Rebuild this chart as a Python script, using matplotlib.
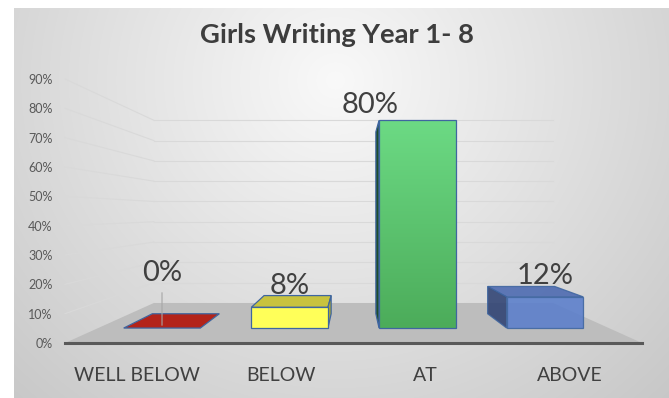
import numpy as np
import matplotlib
matplotlib.use("Agg")
import matplotlib.pyplot as plt
from matplotlib.patches import Polygon

plt.rcParams['font.family'] = ['Lato', 'DejaVu Sans']

# chart data
categories = ["WELL BELOW", "BELOW", "AT", "ABOVE"]
percent = [0, 8, 80, 12]
title = "Girls Writing Year 1- 8"

# styling per bar: front, top, side
front_cols = ["#b3231a", "#ffff59", "#5fc872", "#5a7ecb"]
top_cols = ["#b3231a", "#c8c33e", "#5fc872", "#4a68b0"]
side_cols = ["#8a1a12", "#b0ab2c", "#1f4e2c", "#2e4172"]
edge_col = "#3f66a0"

# simple perspective: depth ratio r scales toward the vanishing point
XVP, VVP = 1.5, 44.3
R_WALL, R_FRONT, R_BACK = 0.692, 0.885, 0.775
HALF_W = 0.3


def proj(x, v, r):
    return (XVP + (x - XVP) * r, VVP + (v - VVP) * r)


W, H = 669, 398
fig = plt.figure(figsize=(W / 100, H / 100), dpi=100, facecolor="white")

# background panel with soft radial shading
bg = fig.add_axes([14 / W, 0, 655 / W, 390 / H])
yy, xx = np.mgrid[0:390, 0:655]
d = np.sqrt(((xx + 14 - 335) / 400.0) ** 2 + ((yy + 8 - 80) / 380.0) ** 2)
shade = np.clip(249 - 42 * d, 190, 250) / 255.0
bg.imshow(np.dstack([shade] * 3), aspect="auto", interpolation="bilinear")
bg.set_axis_off()

ax = fig.add_axes([65 / W, 55 / H, 577 / W, 264 / H])
ax.set_xlim(-0.5, 3.5)
ax.set_ylim(0, 90)
ax.patch.set_alpha(0)
for s in ax.spines.values():
    s.set_visible(False)

ticks = list(range(0, 100, 10))
ax.set_yticks(ticks)
ax.set_yticklabels([f"{t}%" for t in ticks], fontsize=9, color="#595959")
ax.set_xticks(range(len(categories)))
ax.set_xticklabels(categories, fontsize=14, color="#404040")
ax.tick_params(axis="y", length=0, pad=9)
ax.tick_params(axis="x", length=0, pad=17)

# side wall and back wall gridlines
x0, x1 = -0.5, 3.5
for t in ticks[1:]:
    a = proj(x0, t, 1.0)
    b = proj(x0, t, R_WALL)
    c = proj(x1, t, R_WALL)
    ax.plot([a[0], b[0]], [a[1], b[1]], color="#d9d9d9", lw=0.8, clip_on=False, zorder=1)
    ax.plot([b[0], c[0]], [b[1], c[1]], color="#d9d9d9", lw=0.8, clip_on=False, zorder=1)

# floor
floor = [proj(x0, 0, 1.0), proj(x0, 0, R_WALL), proj(x1, 0, R_WALL), proj(x1, 0, 1.0)]
ax.add_patch(Polygon(floor, closed=True, facecolor="#bdbdbd", edgecolor="none",
                     zorder=2, clip_on=False))
ax.plot([x0, x1], [0, 0], color="#595959", lw=2.2, clip_on=False, zorder=3)


def face(pts, fc, z, alpha=1.0):
    p = Polygon(pts, closed=True, facecolor=fc, edgecolor=edge_col, lw=0.9,
                alpha=alpha, zorder=z, clip_on=False)
    ax.add_patch(p)
    return p


for i, v in enumerate(percent):
    xl, xr = i - HALF_W, i + HALF_W
    alpha = 0.88 if i == 3 else 1.0
    # top face (only seen below the horizon)
    if v < VVP:
        face([proj(xl, v, R_FRONT), proj(xl, v, R_BACK), proj(xr, v, R_BACK),
              proj(xr, v, R_FRONT)], top_cols[i], 4, alpha)
    if v > 0:
        # visible side face
        xs = xr if xr < XVP else xl
        if xr < XVP or xl > XVP:
            face([proj(xs, 0, R_FRONT), proj(xs, 0, R_BACK), proj(xs, v, R_BACK),
                  proj(xs, v, R_FRONT)], side_cols[i], 4, alpha)
        front = [proj(xl, 0, R_FRONT), proj(xl, v, R_FRONT), proj(xr, v, R_FRONT),
                 proj(xr, 0, R_FRONT)]
        if i == 2:
            # green column with vertical shading
            p = face(front, "none", 6)
            fx = [q[0] for q in front]
            fy = [q[1] for q in front]
            g = np.linspace(0, 1, 100)[:, None]
            top_c = np.array([108, 218, 132]) / 255.0
            bot_c = np.array([76, 172, 90]) / 255.0
            img = top_c * (1 - g[..., None]) + bot_c * g[..., None]
            im = ax.imshow(img, extent=[min(fx), max(fx), min(fy), max(fy)],
                           aspect="auto", zorder=5)
            im.set_clip_path(p)
        else:
            face(front, front_cols[i], 5, alpha)

# value labels
nudge = {0: (0, 24), 2: (-34, -4)}
for i, v in enumerate(percent):
    cx, cy = proj(i, v, R_FRONT)
    dx, dy = nudge.get(i, (0, 0))
    ax.annotate(f"{v}%", (cx, cy), xytext=(dx, 6 + dy), textcoords="offset points",
                ha="center", va="bottom", fontsize=21, color="#404040",
                zorder=8, annotation_clip=False)
    if v == 0:
        ax.annotate("", (cx, cy), xytext=(cx, cy + 13),
                    arrowprops=dict(arrowstyle="-", color="#a6a6a6", lw=0.8),
                    zorder=7, annotation_clip=False)

fig.text(337 / W, 1 - 35 / H, title, ha="center", va="center", fontsize=19.7,
         fontweight="bold", color="#3d3d3d")

fig.savefig("out.png", dpi=100, facecolor="white")
